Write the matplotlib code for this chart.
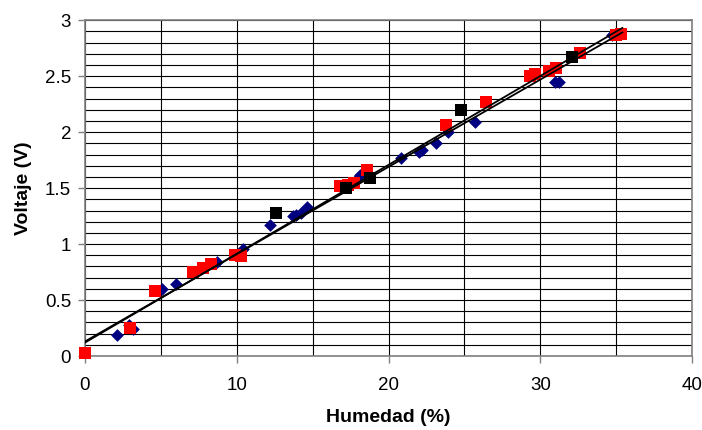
import numpy as np
import matplotlib
matplotlib.use("Agg")
import matplotlib.pyplot as plt
from matplotlib.ticker import MultipleLocator

plt.rcParams['font.family'] = ['Liberation Sans', 'DejaVu Sans']

# blue diamonds
blue_x = [2.13, 2.92, 3.14, 5.05, 5.97, 8.7, 10.4, 12.2, 13.7, 13.9, 14.2, 14.6,
          17.9, 18.1, 20.8, 22.0, 22.2, 23.1, 23.9, 25.7, 30.97, 31.2, 34.7]
blue_y = [0.19, 0.28, 0.24, 0.60, 0.64, 0.84, 0.96, 1.17, 1.25, 1.26, 1.28, 1.33,
          1.58, 1.62, 1.77, 1.82, 1.84, 1.90, 2.00, 2.09, 2.45, 2.45, 2.87]

# red squares
red_x = [0.0, 2.96, 4.6, 7.1, 7.8, 8.3, 9.9, 10.3, 16.8, 17.35, 17.7, 18.56,
         23.8, 26.4, 29.3, 29.65, 30.6, 31.0, 32.6, 35.0, 35.3]
red_y = [0.03, 0.25, 0.58, 0.75, 0.79, 0.82, 0.90, 0.89, 1.52, 1.53, 1.55, 1.66,
         2.06, 2.27, 2.50, 2.52, 2.55, 2.57, 2.71, 2.87, 2.88]

# black squares
black_x = [12.6, 17.2, 18.8, 24.8, 32.1]
black_y = [1.28, 1.50, 1.59, 2.20, 2.67]

# trend lines (intercept, slope) and x range
trend_a = (0.12, 0.0794)
trend_b = (0.13, 0.0780)
trend_x = [0.0, 35.4]

fig = plt.figure(figsize=(7.02, 4.30), dpi=100)
ax = fig.add_axes([0.121, 0.172, 0.865, 0.781])

ax.scatter(blue_x, blue_y, marker='D', s=42, color='#000080', zorder=3,
           linewidths=0, clip_on=False)
ax.scatter(red_x, red_y, marker='s', s=75, color='#FF0000', zorder=3,
           linewidths=0, clip_on=False)
ax.scatter(black_x, black_y, marker='s', s=75, color='black', zorder=3,
           linewidths=0, clip_on=False)

tx = np.array(trend_x)
for b0, m in (trend_a, trend_b):
    ax.plot(tx, b0 + m * tx, color='black', lw=1.3, zorder=4)

ax.set_xlim(0, 40)
ax.set_ylim(0, 3)
ax.xaxis.set_major_locator(MultipleLocator(10))
ax.xaxis.set_minor_locator(MultipleLocator(5))
ax.yaxis.set_minor_locator(MultipleLocator(0.1))
ax.set_yticks(np.arange(0, 3.01, 0.5))
ax.set_yticklabels(['0', '0.5', '1', '1.5', '2', '2.5', '3'])

ax.grid(True, which='both', color='black', lw=0.8, zorder=0)
ax.set_axisbelow(True)
ax.tick_params(which='minor', length=0)
ax.tick_params(which='major', direction='out', length=5, width=1,
               color='#808080', labelsize=13.5)
ax.tick_params(axis='x', pad=10)
ax.tick_params(axis='y', pad=5)
for sp in ax.spines.values():
    sp.set_color('#808080')
    sp.set_linewidth(1.2)

ax.set_xlabel('Humedad (%)', fontsize=14, fontweight='bold', labelpad=11)
ax.set_ylabel('Voltaje (V)', fontsize=14, fontweight='bold', labelpad=9)

fig.savefig('out.png', dpi=100)
